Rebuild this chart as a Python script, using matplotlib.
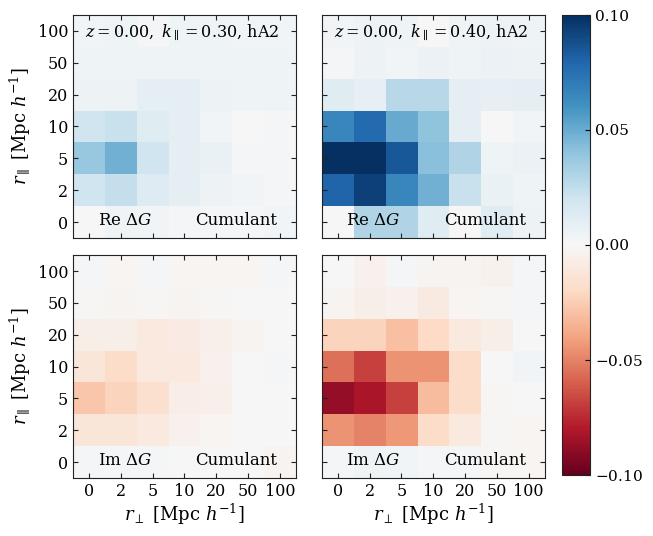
import matplotlib
matplotlib.use("Agg")
import matplotlib.pyplot as plt
import numpy as np

plt.rcParams["font.family"] = "DejaVu Serif"
plt.rcParams["mathtext.fontset"] = "dejavuserif"

# separation bins (same for both axes)
r_labels = ["0", "2", "5", "10", "20", "50", "100"]

# rows listed from r_par = 100 (top) down to r_par = 0 (bottom),
# columns r_perp = 0, 2, 5, 10, 20, 50, 100
re_k030 = [
    [0.003, 0.004, 0.002, 0.004, 0.004, 0.003, 0.003],
    [0.004, 0.004, 0.004, 0.004, 0.004, 0.004, 0.004],
    [0.005, 0.005, 0.009, 0.010, 0.005, 0.004, 0.004],
    [0.020, 0.022, 0.012, 0.010, 0.003, 0.000, 0.001],
    [0.038, 0.048, 0.020, 0.010, 0.007, 0.002, 0.002],
    [0.020, 0.024, 0.013, 0.010, 0.005, 0.003, 0.002],
    [0.0005, 0.004, 0.003, 0.001, 0.001, 0.002, 0.003],
]
re_k040 = [
    [0.003, 0.005, 0.004, 0.000, 0.004, 0.005, 0.004],
    [0.002, 0.005, 0.003, 0.006, 0.004, 0.006, 0.005],
    [0.012, 0.008, 0.028, 0.028, 0.010, 0.008, 0.010],
    [0.065, 0.078, 0.050, 0.040, 0.010, 0.000, 0.003],
    [0.100, 0.100, 0.085, 0.042, 0.030, 0.004, 0.006],
    [0.080, 0.093, 0.065, 0.048, 0.022, 0.007, 0.004],
    [0.000, 0.030, 0.030, 0.012, 0.000, 0.012, 0.005],
]
im_k030 = [
    [0.001, -0.002, 0.002, -0.002, -0.002, -0.002, 0.002],
    [-0.001, -0.003, -0.001, -0.003, -0.001, 0.000, 0.000],
    [-0.006, -0.006, -0.010, -0.008, -0.005, -0.003, 0.000],
    [-0.012, -0.018, -0.010, -0.010, -0.004, 0.000, 0.001],
    [-0.028, -0.022, -0.016, -0.007, -0.005, 0.000, 0.000],
    [-0.012, -0.012, -0.010, -0.004, -0.002, 0.000, 0.000],
    [0.001, 0.001, 0.002, 0.000, 0.000, 0.000, -0.003],
]
im_k040 = [
    [0.000, -0.004, 0.002, -0.003, -0.003, -0.004, 0.002],
    [-0.003, -0.006, -0.004, -0.009, -0.002, -0.001, 0.001],
    [-0.022, -0.022, -0.030, -0.020, -0.010, -0.006, 0.000],
    [-0.055, -0.068, -0.045, -0.045, -0.018, 0.000, 0.003],
    [-0.088, -0.082, -0.068, -0.032, -0.018, -0.001, 0.000],
    [-0.045, -0.050, -0.043, -0.018, -0.010, -0.001, -0.002],
    [0.001, 0.004, 0.003, 0.001, 0.001, -0.001, -0.002],
]

panels = [
    (re_k030, "0.30", "Re"),
    (re_k040, "0.40", "Re"),
    (im_k030, "0.30", "Im"),
    (im_k040, "0.40", "Im"),
]

fig = plt.figure(figsize=(6.53, 5.36), dpi=100)
x0s = [0.112, 0.493]
y0s = [0.556, 0.108]
w, h = 0.341, 0.416

for i, (vals, kpar, part) in enumerate(panels):
    row, col = divmod(i, 2)
    ax = fig.add_axes([x0s[col], y0s[row], w, h])
    im = ax.imshow(np.array(vals), cmap="RdBu", vmin=-0.1, vmax=0.1,
                   origin="upper", aspect="auto", interpolation="nearest")
    ax.set_xticks(range(7))
    ax.set_yticks(range(7))
    ax.set_yticklabels(r_labels[::-1])
    ax.set_xticklabels(r_labels)
    ax.tick_params(direction="in", top=True, right=True, labelsize=11.5,
                   colors="#222222", labelcolor="black")
    for sp in ax.spines.values():
        sp.set_color("#222222")
    if col == 1:
        ax.tick_params(labelleft=False)
    else:
        ax.set_ylabel(r"$r_\parallel$ [Mpc $h^{-1}$]", fontsize=13)
    if row == 0:
        ax.tick_params(labelbottom=False)
        ax.text(0.49, 0.92, r"$z=0.00,\ k_\parallel=%s$, hA2" % kpar,
                transform=ax.transAxes, ha="center", va="center", fontsize=11.5)
    else:
        ax.set_xlabel(r"$r_\perp$ [Mpc $h^{-1}$]", fontsize=13, labelpad=1)
    ax.text(0.11, 0.08, part + r" $\Delta G$", transform=ax.transAxes,
            ha="left", va="center", fontsize=12)
    ax.text(0.915, 0.08, "Cumulant", transform=ax.transAxes,
            ha="right", va="center", fontsize=12)

cax = fig.add_axes([0.861, 0.114, 0.043, 0.858])
cb = fig.colorbar(im, cax=cax, ticks=[-0.1, -0.05, 0.0, 0.05, 0.1])
cb.ax.tick_params(direction="in", labelsize=11)
cb.ax.set_yticklabels(["$-0.10$", "$-0.05$", "0.00", "0.05", "0.10"])
cb.outline.set_edgecolor("#222222")

fig.savefig("out.png", dpi=100)
